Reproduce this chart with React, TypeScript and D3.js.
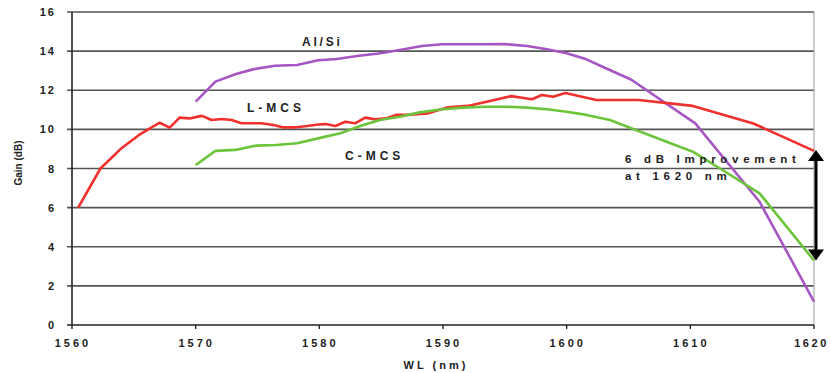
import React from 'react';
import * as d3 from 'd3';

// wavelength (nm) / gain (dB)
const lmcsWl = [1560.5, 1562.3, 1563.9, 1565.5, 1566.3, 1567.1, 1567.9, 1568.7, 1569.5, 1570.5, 1571.3, 1572.1, 1572.9, 1573.7, 1574.5, 1575.3, 1576.3, 1577.1, 1578.0, 1579.0, 1579.9, 1580.5, 1581.3, 1582.1, 1582.9, 1583.7, 1584.5, 1585.4, 1586.2, 1587.1, 1587.9, 1588.8, 1590.4, 1592.0, 1593.8, 1595.5, 1596.4, 1597.2, 1598.0, 1598.9, 1599.9, 1602.4, 1605.8, 1610.2, 1615.1, 1620];
const lmcsGain = [6.0, 8.0, 8.98, 9.75, 10.05, 10.34, 10.09, 10.6, 10.56, 10.69, 10.48, 10.53, 10.48, 10.31, 10.31, 10.31, 10.22, 10.1, 10.1, 10.17, 10.25, 10.27, 10.17, 10.39, 10.31, 10.6, 10.51, 10.56, 10.74, 10.74, 10.77, 10.82, 11.13, 11.2, 11.45, 11.7, 11.62, 11.54, 11.76, 11.67, 11.86, 11.5, 11.5, 11.2, 10.3, 8.9];

const cmcsWl = [1570, 1571.6, 1573.2, 1574.9, 1576.5, 1578.2, 1579.9, 1581.7, 1583.3, 1584.9, 1586.5, 1588.1, 1589.8, 1591.6, 1593.4, 1595.0, 1596.8, 1598.4, 1600.0, 1601.6, 1603.5, 1605.6, 1610.2, 1612.4, 1615.6, 1620];
const cmcsGain = [8.18, 8.9, 8.95, 9.17, 9.2, 9.29, 9.54, 9.8, 10.17, 10.48, 10.65, 10.87, 11.02, 11.11, 11.16, 11.16, 11.11, 11.03, 10.9, 10.74, 10.48, 9.97, 8.86, 8.0, 6.73, 3.3];

const alsiWl = [1570, 1571.6, 1573.2, 1574.7, 1576.4, 1578.2, 1579.9, 1581.4, 1583.2, 1584.8, 1586.5, 1588.3, 1589.9, 1591.6, 1593.4, 1595.0, 1596.8, 1598.4, 1600.0, 1601.6, 1602.9, 1605.2, 1610.4, 1615.6, 1620];
const alsiGain = [11.42, 12.44, 12.82, 13.08, 13.25, 13.29, 13.53, 13.6, 13.76, 13.88, 14.06, 14.26, 14.35, 14.35, 14.35, 14.36, 14.26, 14.1, 13.89, 13.58, 13.2, 12.55, 10.31, 6.3, 1.2];

const xTicks = [1560, 1570, 1580, 1590, 1600, 1610, 1620];
const yTicks = [0, 2, 4, 6, 8, 10, 12, 14, 16];

const W = 830;
const H = 373;

const App = () => {
  const x = d3.scaleLinear().domain([1560, 1620]).range([72, 814]);
  const y = d3.scaleLinear().domain([0, 16]).range([325, 12]);

  const line = d3.line<[number, number]>()
    .x((d) => x(d[0]))
    .y((d) => y(d[1]));

  const series = [
    { wl: alsiWl, g: alsiGain, color: '#a656c2' },
    { wl: lmcsWl, g: lmcsGain, color: '#f0302c' },
    { wl: cmcsWl, g: cmcsGain, color: '#6cc43c' },
  ];

  const lbl = { fontFamily: 'Liberation Sans, Arial, sans-serif', fontWeight: 700 as const, fill: '#222' };

  // arrow between the two curves at 1620
  const arrowX = x(1620) + 2;
  const aTop = y(8.95);
  const aBot = y(3.3);

  return (
    <svg width={W} height={H} style={{ position: 'absolute', left: 0, top: 0, background: '#fff' }}>
      {/* grid */}
      {yTicks.filter((t) => t > 0).map((t) => (
        <line key={'g' + t} x1={x(1560) - 5} x2={x(1620)} y1={y(t)} y2={y(t)} stroke="#555" strokeWidth={1.6} />
      ))}
      <line x1={x(1620)} x2={x(1620)} y1={y(16)} y2={y(0)} stroke="#999" strokeWidth={1} />
      {/* axes */}
      <line x1={x(1560)} x2={x(1560)} y1={y(16)} y2={y(0)} stroke="#222" strokeWidth={1.6} />
      <line x1={x(1560) - 5} x2={x(1620)} y1={y(0)} y2={y(0)} stroke="#222" strokeWidth={1.6} />
      {xTicks.map((t) => (
        <line key={'xt' + t} x1={x(t)} x2={x(t)} y1={y(0)} y2={y(0) + 4} stroke="#222" strokeWidth={1.4} />
      ))}

      {yTicks.map((t) => (
        <text key={'yl' + t} x={56} y={y(t) + 4} textAnchor="end" fontSize={11} letterSpacing={2} {...lbl}>{t}</text>
      ))}
      {xTicks.map((t, i) => (
        i === xTicks.length - 1
          ? <text key={'xl' + t} x={W - 1} y={347} textAnchor="end" fontSize={11} letterSpacing={2.6} {...lbl}>{t}</text>
          : <text key={'xl' + t} x={x(t) + 1} y={347} textAnchor="middle" fontSize={11} letterSpacing={3} {...lbl}>{t}</text>
      ))}
      <text x={436} y={369} textAnchor="middle" fontSize={11} letterSpacing={3} {...lbl}>WL (nm)</text>
      <text transform="translate(22,163) rotate(-90)" textAnchor="middle" fontSize={10} {...lbl} fontWeight={600}>Gain (dB)</text>

      {series.map((s, i) => (
        <path key={i} d={line(s.wl.map((w, j) => [w, s.g[j]]) as [number, number][]) || ''}
          fill="none" stroke={s.color} strokeWidth={2.6} strokeLinejoin="round" />
      ))}

      <text x={302} y={46} fontSize={12} letterSpacing={2.8} {...lbl}>Al/Si</text>
      <text x={247} y={112} fontSize={12} letterSpacing={4} {...lbl}>L-MCS</text>
      <text x={345} y={160} fontSize={12} letterSpacing={4} {...lbl}>C-MCS</text>
      <text x={625} y={163} fontSize={11.5} letterSpacing={4.7} {...lbl}>6 dB Improvement</text>
      <text x={625} y={180} fontSize={11.5} letterSpacing={4.7} {...lbl}>at 1620 nm</text>

      {/* double arrow */}
      <line x1={arrowX} x2={arrowX} y1={aTop + 8} y2={aBot - 8} stroke="#000" strokeWidth={3} />
      <path d={`M${arrowX},${aTop} L${arrowX - 8},${aTop + 11} L${arrowX + 8},${aTop + 11} Z`} fill="#000" />
      <path d={`M${arrowX},${aBot} L${arrowX - 8},${aBot - 11} L${arrowX + 8},${aBot - 11} Z`} fill="#000" />
    </svg>
  );
};

export default App;
